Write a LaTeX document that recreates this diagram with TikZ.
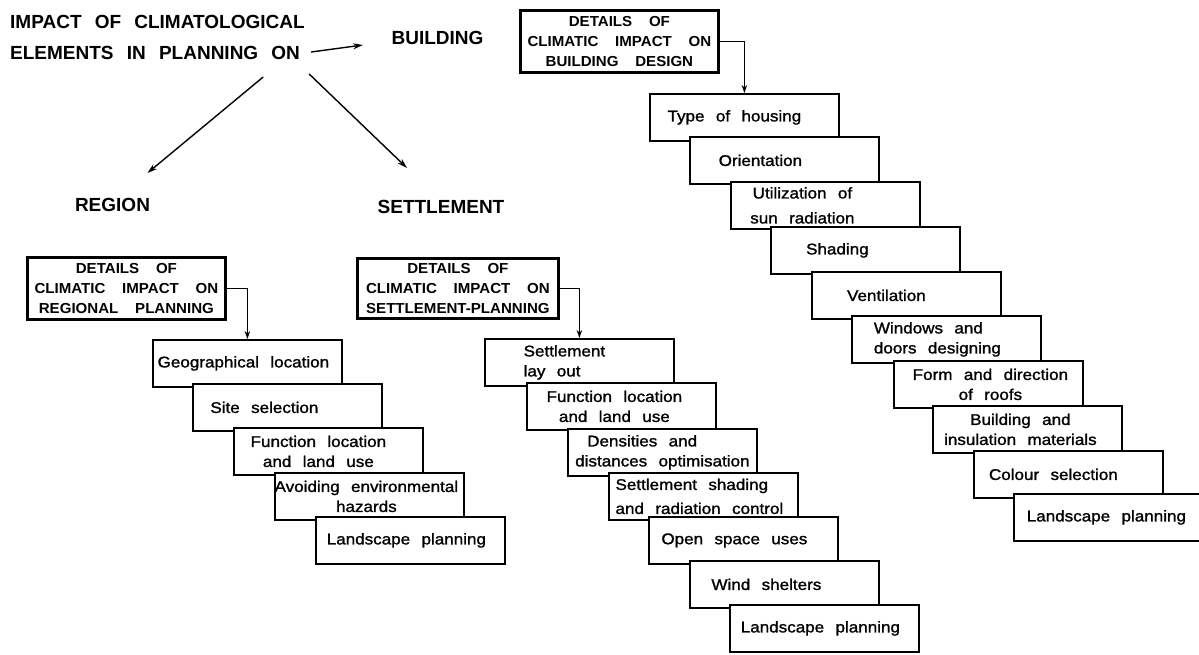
\documentclass[tikz,border=0pt]{standalone}
\usepackage{fontspec}
\setmainfont{Liberation Sans}
\newfontfamily\itemfont[WordSpace=2.4,FakeStretch=1.1,FakeBold=1.3]{Liberation Sans}
\newfontfamily\headfont[WordSpace=2.5]{Liberation Sans}
\newfontfamily\detailfont[WordSpace=4.0,FakeStretch=1.04]{Liberation Sans}
\usetikzlibrary{arrows.meta}

\tikzset{
  itembox/.style={draw, line width=1.8pt, fill=white, minimum width=189pt,
    minimum height=47pt, inner sep=0pt, anchor=north west},
  itemtext/.style={font=\itemfont\fontsize{15.5}{20}\selectfont, align=center, inner sep=0pt},
  detailbox/.style={draw, line width=2.8pt, fill=white, inner sep=0pt, align=center,
    anchor=north west, font=\detailfont\bfseries\fontsize{14.5}{20}\selectfont},
  heading/.style={font=\headfont\bfseries\fontsize{19}{31}\selectfont, inner sep=0pt},
  arr/.style={line width=1.4pt, -{Stealth[length=10pt,width=6pt]}},
  feed/.style={line width=1.4pt, -{Stealth[length=8pt,width=5.5pt]}},
}

% one step of a staircase: frame, then its caption shifted sideways
\newcommand\chainbox[6][]{%
  \node[itembox] (#2) at (#3,#4) {};
  \node[itemtext,#1] (#2-t) at ([xshift=#5pt]#2.center) {#6};}

\begin{document}
\begin{tikzpicture}[x=1pt,y=-1pt]
\fill[white] (0,0) rectangle (1199,654);
\useasboundingbox (0,0) rectangle (1199,654);

% headings
\node[heading, anchor=west] (title1) at (10,22) {IMPACT OF CLIMATOLOGICAL};
\node[heading, anchor=west] (title2) at (10,53) {ELEMENTS IN PLANNING ON};
\node[heading] (bld) at (437.5,38) {BUILDING};
\node[heading] (reg) at (112.5,205) {REGION};
\node[heading] (set) at (441,207) {SETTLEMENT};

\draw[arr] ([shift={(11,-1)}]title2.east) -- ([shift={(-74.5,7)}]bld.center);
\draw[arr] ([shift={(-37,24)}]title2.east) -- ([shift={(35,-32)}]reg.center);
\draw[arr] ([shift={(9,21)}]title2.east) -- ([shift={(-34,-39)}]set.center);

% detail boxes
\node[detailbox, minimum width=198pt, minimum height=62pt] (regdet) at (26,256)
  {DETAILS OF\\CLIMATIC IMPACT ON\\REGIONAL PLANNING};
\node[detailbox, minimum width=201pt, minimum height=60pt] (setdet) at (356,257)
  {DETAILS OF\\CLIMATIC IMPACT ON\\SETTLEMENT-PLANNING};
\node[detailbox, minimum width=198pt, minimum height=62pt] (blddet) at (519,9)
  {DETAILS OF\\CLIMATIC IMPACT ON\\BUILDING DESIGN};

% regional planning
\chainbox{r1}{152}{339}{-4}{Geographical location}
\chainbox{r2}{192}{383}{-23}{Site selection}
\chainbox{r3}{233}{427}{-10}{Function location\\and land use}
\chainbox{r4}{274}{472}{-3}{Avoiding environmental\\hazards}
\chainbox{r5}{315}{516}{-4}{Landscape planning}
\draw[feed] (regdet.east) -| (r1.north);

% settlement planning
\chainbox[align=left]{s1}{484}{338}{-15}{Settlement\\lay out}
\chainbox{s2}{526}{382}{-7}{Function location\\and land use}
\chainbox[align=left]{s3}{567}{428}{0}{\hspace{12pt}Densities and\\distances optimisation}
\chainbox[align=left]{s4}{608}{472}{-4}{Settlement shading\\[4pt]and radiation control}
\chainbox{s5}{648}{516}{-9}{Open space uses}
\chainbox{s6}{689}{560}{-18}{Wind shelters}
\chainbox{s7}{729}{604}{-4}{Landscape planning}
\draw[feed] (setdet.east) -| (s1.north);

% building design
\chainbox{b1}{649}{93}{-10}{Type of housing}
\chainbox{b2}{689}{136}{-24}{Orientation}
\chainbox{b3}{730}{181}{-23}{Utilization of\\[5pt]sun radiation}
\chainbox{b4}{770}{226}{-28}{Shading}
\chainbox{b5}{811}{271}{-20}{Ventilation}
\chainbox[align=left]{b6}{851}{315}{-9}{Windows and\\doors designing}
\chainbox{b7}{893}{360}{2}{Form and direction\\of roofs}
\chainbox{b8}{932}{405}{-7}{Building and\\insulation materials}
\chainbox{b9}{973}{450}{-15}{Colour selection}
\chainbox{b10}{1013}{493}{-2}{Landscape planning}
\draw[feed] (blddet.east) -| (b1.north);
\end{tikzpicture}
\end{document}
